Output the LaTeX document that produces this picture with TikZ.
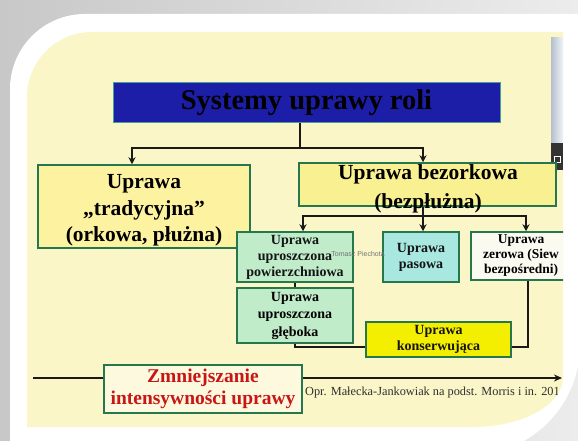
\documentclass[tikz,border=0pt]{standalone}
\usepackage{fontspec}
\setmainfont{Liberation Serif}
\newfontfamily\wmfont{Liberation Sans}
\usetikzlibrary{arrows.meta}
\definecolor{panel}{RGB}{251,246,200}
\definecolor{frameL}{RGB}{200,200,200}
\definecolor{frameR}{RGB}{236,236,236}
\definecolor{titleblue}{RGB}{28,30,168}
\definecolor{titleedge}{RGB}{70,160,150}
\definecolor{edgegreen}{RGB}{38,118,78}
\definecolor{tradfill}{RGB}{252,242,160}
\definecolor{bezfill}{RGB}{249,240,145}
\definecolor{greenfill}{RGB}{192,236,202}
\definecolor{tealfill}{RGB}{168,232,224}
\definecolor{zerofill}{RGB}{250,250,240}
\definecolor{konsfill}{RGB}{244,238,0}
\definecolor{redfill}{RGB}{253,249,222}
\definecolor{redtext}{RGB}{200,22,22}
\definecolor{linec}{RGB}{25,25,25}
\tikzset{
  box/.style={draw=edgegreen, line width=1.5pt, inner sep=0pt, align=center},
  conn/.style={draw=linec, line width=1.7pt},
  thinconn/.style={draw=linec, line width=1.2pt},
  arr/.style={conn, -{Stealth[length=7pt,width=7pt]}},
  smalltxt/.style={font=\fontsize{14}{16}\selectfont\bfseries, text=black!92},
  bigtxt/.style={align=center, inner sep=0pt, font=\fontsize{21.5}{26.5}\selectfont\bfseries},
}
\begin{document}
\begin{tikzpicture}[x=1pt,y=-1pt]
\useasboundingbox (0,0) rectangle (578,441);
% background frame
\shade[left color=frameL, right color=frameR] (0,0) rectangle (578,441);
\fill[white] (10,455) -- (10,89) arc[start angle=180,end angle=90,radius=75pt]
   -- (580,14) -- (580,345) arc[start angle=0,end angle=-90,radius=110pt] -- cycle;
\fill[panel] (27,427) -- (27,97) arc[start angle=180,end angle=90,radius=65pt]
   -- (563,32) -- (563,377) arc[start angle=0,end angle=-90,x radius=90pt,y radius=50pt] -- cycle;
% screen artefact on the right
\shade[left color={rgb,255:red,180;green,192;blue,204}, right color={rgb,255:red,240;green,244;blue,248}] (551,38) rectangle (563,143);
\fill[black!80] (551,143) rectangle (563,170);
\draw[white, line width=0.6pt] (554,156) rectangle (560,162);

\begin{scope}
\clip (27,427) -- (27,97) arc[start angle=180,end angle=90,radius=65pt]
   -- (563,32) -- (563,377) arc[start angle=0,end angle=-90,x radius=90pt,y radius=50pt] -- cycle;

% main arrow along the bottom
\coordinate (a0) at (33,378);
\coordinate (a1) at (562,378);
\draw[draw=linec, line width=2pt, -{Stealth[length=8pt,width=7pt]}] (a0) -- (a1);

% title
\node[draw=titleedge, line width=1pt, fill=titleblue, minimum width=387pt, minimum height=40pt,
      inner sep=0pt, font=\fontsize{28.5}{30}\selectfont\bfseries, text=black] (title) at (306.5,103) {Systemy uprawy roli};

% level 1
\node[box, fill=tradfill, minimum width=212pt, minimum height=83pt] (trad) at (144,206.5) {};
\node[bigtxt] (tradt) at (144,210.5) {Uprawa\\„tradycyjna”\\(orkowa, płużna)};
\node[box, fill=bezfill, minimum width=257pt, minimum height=43pt] (bez) at (427.5,184.5) {};
\node[bigtxt, font=\fontsize{21.5}{28.5}\selectfont\bfseries] (bezt) at (428,189)
      {Uprawa bezorkowa\\(bezpłużna)};

% level 2
\node[box, fill=greenfill, minimum width=116pt, minimum height=50pt, smalltxt] (g1) at (295,257)
      {Uprawa\\uproszczona\\powierzchniowa};
\node[box, fill=tealfill, minimum width=76pt, minimum height=50pt, smalltxt] (teal) at (421,257)
      {Uprawa\\pasowa};
\node[box, fill=zerofill, minimum width=100pt, minimum height=48pt,
      font=\fontsize{13.5}{15}\selectfont\bfseries] (zero) at (521,256)
      {Uprawa\\zerowa (Siew\\bezpośredni)};
\node[box, fill=greenfill, minimum width=116pt, minimum height=55pt,
      font=\fontsize{14}{17.5}\selectfont\bfseries] (g2) at (295,315.5)
      {Uprawa\\uproszczona\\głęboka};
\node[box, fill=konsfill, minimum width=145pt, minimum height=35pt, smalltxt] (kons) at (438.5,339.5)
      {Uprawa\\konserwująca};

% bottom label
\node[box, fill=redfill, minimum width=198pt, minimum height=48pt,
      font=\fontsize{19.5}{22}\selectfont\bfseries, text=redtext] (red) at (203,389)
      {Zmniejszanie\\intensywności uprawy};
\node[anchor=west, inner sep=0pt, font=\fontsize{12.3}{14}\selectfont, text=black!82] (cite) at (305,393)
      {Opr. Małecka-Jankowiak na podst. Morris i in. 201};

% watermark
\node[inner sep=0pt, font=\wmfont\fontsize{7}{8}\selectfont, text=black!55] (wm) at (358,254) {Tomasz Piechota};

% connectors
\coordinate (j1) at (300,148);
\draw[conn] (title.south -| j1) -- (j1);
\draw[arr] (j1) -| ([xshift=-12pt]trad.north);
\draw[arr] (j1) -| ([xshift=-4.5pt]bez.north);

\coordinate (j2) at (423,216);
\draw[conn] (bez.south -| j2) -- (j2);
\draw[arr] (j2) -| ([xshift=8pt]g1.north);
\draw[arr] (j2) -- (teal.north -| j2);
\draw[arr] (j2) -| ([xshift=5pt]zero.north);

\draw[thinconn] (g1.south) -- (g2.north);
\coordinate (j3) at (295,347);
\draw[thinconn] (g2.south) -- (j3) -- (kons.west |- j3);
\coordinate (j4) at (528,347);
\draw[thinconn] (kons.east |- j4) -- (j4) -- (zero.south -| j4);
\end{scope}
\end{tikzpicture}
\end{document}
